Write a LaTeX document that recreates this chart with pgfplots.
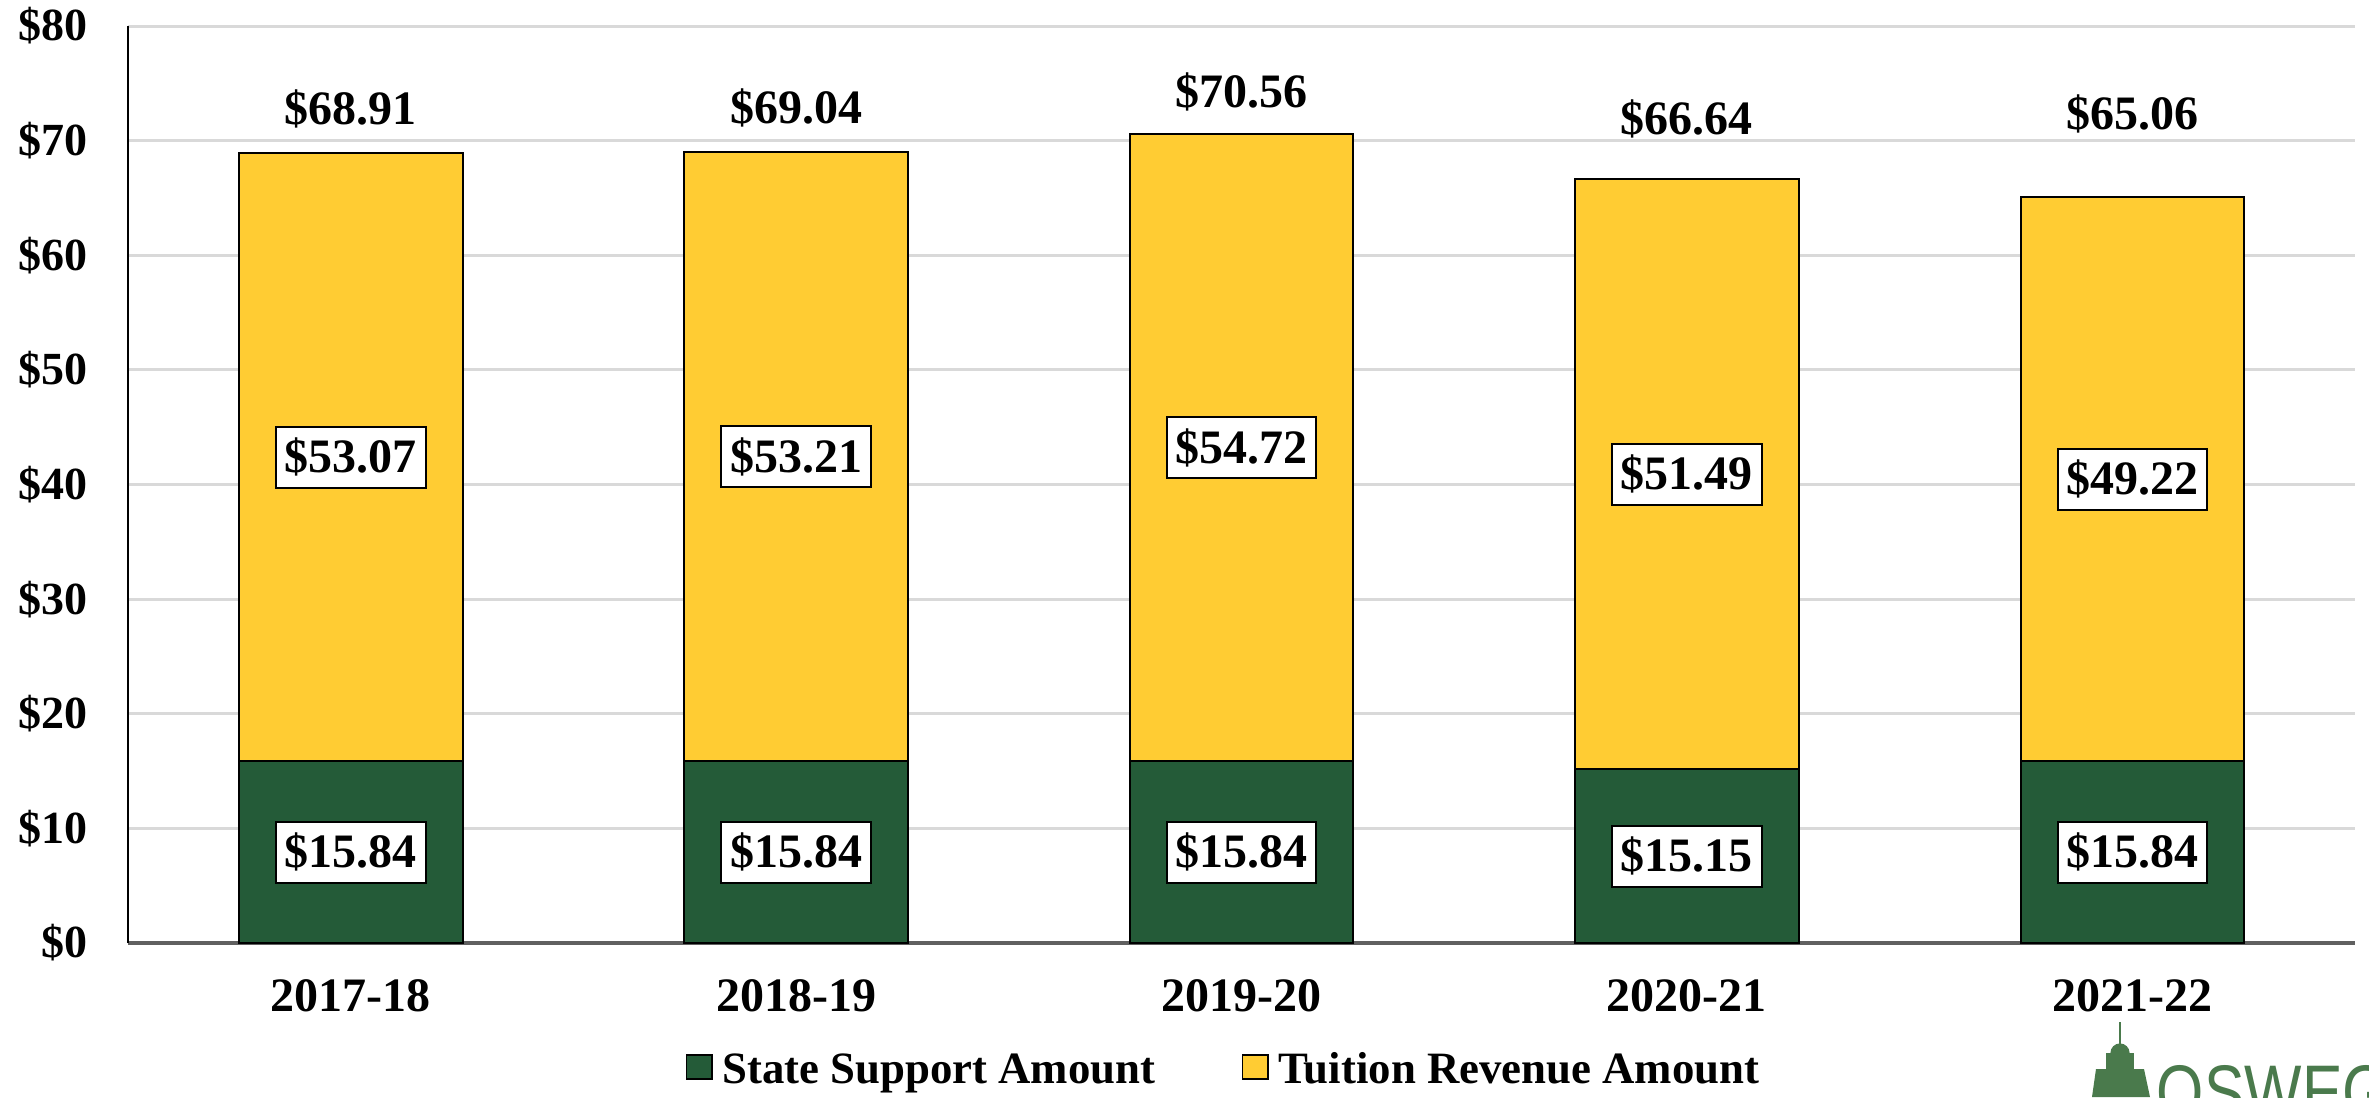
\documentclass[border=0pt]{standalone}
\usepackage{fontspec}
\setmainfont{Liberation Serif}
\setsansfont[FakeStretch=0.8]{Liberation Sans}
\usepackage{pgfplots}
\usepackage{pgfplotstable}
\pgfplotsset{compat=1.18}
\definecolor{stgreen}{HTML}{245B38}
\definecolor{tuyellow}{HTML}{FFCC33}
\definecolor{gridgray}{HTML}{D9D9D9}
\definecolor{logogreen}{HTML}{4A7A4C}
% gap: invisible spacer above each bar that lifts the total label
\pgfplotstableread{
x state tuition gap total
0 15.84 53.07 4.96 68.91
1 15.84 53.21 4.88 69.04
2 15.84 54.72 4.72 70.56
3 15.15 51.49 7.86 66.64
4 15.84 49.22 11.82 65.06
}\datatable
\newcommand{\lblfont}{\fontsize{12}{14}\selectfont\bfseries}
\newcommand{\ylblfont}{\fontsize{11.5}{13}\selectfont\bfseries}
\begin{document}
\begin{tikzpicture}
\useasboundingbox (0pt,0pt) rectangle (592.25pt,274.25pt);
\begin{axis}[
  at={(32pt,38.5pt)}, anchor=south west,
  scale only axis, width=556.75pt, height=229.25pt,
  ybar stacked, bar width=55.9pt,
  xmin=-0.5, xmax=4.5, ymin=0, ymax=80,
  xtick={0,1,2,3,4},
  xticklabels={2017-18,2018-19,2019-20,2020-21,2021-22},
  ytick={0,10,...,80},
  yticklabels={\$0,\$10,\$20,\$30,\$40,\$50,\$60,\$70,\$80},
  major tick length=0pt,
  xticklabel style={font=\lblfont, yshift=-5.6pt},
  yticklabel style={font=\ylblfont, xshift=-6.5pt},
  axis lines*=left,
  x axis line style={draw=gray!75!black, line width=0.8pt},
  y axis line style={draw=black, line width=0.5pt},
  ymajorgrids,
  grid style={draw=gridgray, line width=0.75pt},
  legend columns=-1,
  legend style={at={(0.2501,-0.1398)}, anchor=west, draw=none, fill=none,
    inner sep=0pt, font=\fontsize{11.2}{13}\selectfont\bfseries,
    nodes={inner sep=1pt},
    /tikz/every odd column/.append style={column sep=1.4pt},
    /tikz/every even column/.append style={column sep=20.6pt}},
]
\addplot[fill=stgreen, draw=black, line width=0.5pt,
  legend image code/.code={\draw[fill=stgreen, draw=black, line width=0.4pt] (0pt,-1.9pt) rectangle (6.3pt,4.1pt);},
  point meta=explicit symbolic,
  nodes near coords={\$\pgfplotspointmeta},
  every node near coord/.append style={anchor=center,
    fill=white, draw=black, line width=0.5pt, inner xsep=2.2pt, inner ysep=2.8pt, font=\lblfont, text=black}]
  table[x=x, y=state, meta=state] {\datatable};
\addlegendentry{State Support Amount}
\addplot[fill=tuyellow, draw=black, line width=0.5pt,
  legend image code/.code={\draw[fill=tuyellow, draw=black, line width=0.4pt] (0pt,-1.9pt) rectangle (6.3pt,4.1pt);},
  point meta=explicit symbolic,
  nodes near coords={\$\pgfplotspointmeta},
  every node near coord/.append style={anchor=center,
    fill=white, draw=black, line width=0.5pt, inner xsep=2.2pt, inner ysep=2.8pt, font=\lblfont, text=black}]
  table[x=x, y=tuition, meta=tuition] {\datatable};
\addlegendentry{Tuition Revenue Amount}
\addplot[draw=none, fill=none, forget plot,
  point meta=explicit symbolic,
  nodes near coords={\$\pgfplotspointmeta},
  every node near coord/.append style={anchor=base, inner sep=0pt, font=\lblfont, text=black}]
  table[x=x, y=gap, meta=total] {\datatable};
\end{axis}
% logo (decorative, partly cut off at the page edge)
\draw[logogreen, line width=0.5pt] (530pt,18.75pt) -- (530pt,13pt);
\fill[logogreen] (527.6pt,11pt) arc (180:0:2.4pt) -- cycle;
\fill[logogreen] (526.5pt,11pt) rectangle (533.5pt,7pt);
\fill[logogreen] (524pt,7pt) -- (536pt,7pt) -- (537.5pt,0pt) -- (523pt,0pt) -- cycle;
\node[anchor=north west, inner sep=0pt, text=logogreen, font=\sffamily\fontsize{19}{19}\selectfont] at (539pt,8pt) {OSWEGO};
\end{tikzpicture}
\end{document}
